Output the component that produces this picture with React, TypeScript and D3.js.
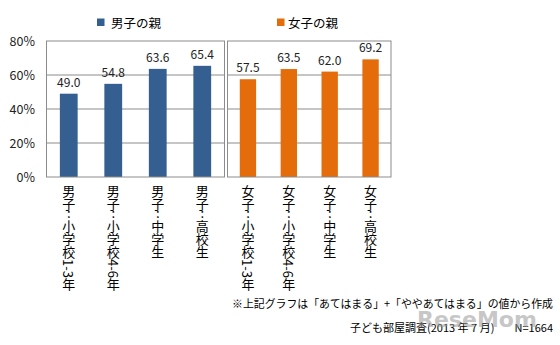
import React from "react";
import * as d3 from "d3";

const boysCats = ["男子:小学校1-3年", "男子:小学校4-6年", "男子:中学生", "男子:高校生"];
const girlsCats = ["女子:小学校1-3年", "女子:小学校4-6年", "女子:中学生", "女子:高校生"];
const boysValues = [49.0, 54.8, 63.6, 65.4];
const girlsValues = [57.5, 63.5, 62.0, 69.2];
const yTicks = [0, 20, 40, 60, 80];
const legendLabels = ["男子の親", "女子の親"];
const note1 = "※上記グラフは「あてはまる」+「ややあてはまる」の値から作成";
const note2Parts = ["子ども部屋調査", "(2013 年 7 月)", "N=1664"];

const BLUE = "#365F91";
const ORANGE = "#E46C0A";
const FONT = "'Noto Sans CJK JP', 'Noto Sans', sans-serif";

const top = 41, bottom = 177;
const y = d3.scaleLinear().domain([0, 80]).range([bottom, top]);

const vStyle = { writingMode: "vertical-rl", textOrientation: "mixed" } as React.CSSProperties;

function VLabel({ text, x }: { text: string; x: number }) {
  const [head, tail] = text.split(":");
  const y0 = 185;
  const fs = 13;
  const colonY = y0 + head.length * fs;
  return (
    <g>
      <text x={x} y={y0} fontSize={fs} fontFamily={FONT} fill="#000" style={vStyle}>{head}</text>
      <text x={x} y={colonY + 7} textAnchor="middle" fontSize={fs} fontFamily={FONT} fill="#000">:</text>
      <text x={x} y={colonY + 9} fontSize={fs} fontFamily={FONT} fill="#000" style={vStyle}>{tail}</text>
    </g>
  );
}

function Panel({ cats, values, x0, x1, color }: { cats: string[]; values: number[]; x0: number; x1: number; color: string }) {
  const x = d3.scaleBand<string>().domain(cats).range([x0, x1]).paddingInner(0.6).paddingOuter(0.3);
  return (
    <g>
      {yTicks.slice(1, -1).map((t) => (
        <line key={t} x1={x0} x2={x1} y1={y(t)} y2={y(t)} stroke="#8c8c8c" strokeWidth={1} />
      ))}
      {cats.map((c, i) => (
        <rect key={c} x={x(c)!} y={y(values[i])} width={x.bandwidth()} height={y(0) - y(values[i])} fill={color} />
      ))}
      {cats.map((c, i) => (
        <text key={"v" + c} x={x(c)! + x.bandwidth() / 2} y={y(values[i]) - 7} textAnchor="middle" fontSize={12} fontFamily={FONT} fill="#222">
          {values[i].toFixed(1)}
        </text>
      ))}
      <rect x={x0} y={top} width={x1 - x0} height={bottom - top} fill="none" stroke="#8c8c8c" strokeWidth={1} />
      {cats.map((c) => (
        <VLabel key={"l" + c} text={c} x={x(c)! + x.bandwidth() / 2} />
      ))}
    </g>
  );
}

export default function App() {
  return (
    <svg width={560} height={345} style={{ position: "absolute", left: 0, top: 0, background: "#fff" }}>
      <rect width={560} height={345} fill="#fff" />
      {yTicks.map((t) => (
        <text key={t} x={35} y={y(t) + 4.5} textAnchor="end" fontSize={12.5} fontFamily={FONT} fill="#222">{t}%</text>
      ))}
      <Panel cats={boysCats} values={boysValues} x0={46.5} x1={224.5} color={BLUE} />
      <Panel cats={girlsCats} values={girlsValues} x0={227.5} x1={391} color={ORANGE} />
      <rect x={97} y={18.5} width={7.5} height={7.5} fill={BLUE} />
      <text x={111} y={27.5} fontSize={12.5} fontFamily={FONT} fill="#000">{legendLabels[0]}</text>
      <rect x={277} y={18.5} width={7.5} height={7.5} fill={ORANGE} />
      <text x={288} y={27.5} fontSize={12.5} fontFamily={FONT} fill="#000">{legendLabels[1]}</text>
      <text x={553} y={308} textAnchor="end" fontSize={10.9} fontFamily={FONT} fill="#000">{note1}</text>
      <text x={350} y={332} fontSize={11} fontFamily={FONT} fill="#000">{note2Parts[0]}</text>
      <text x={427} y={332} fontSize={11} fontFamily={FONT} fill="#000">{note2Parts[1]}</text>
      <text x={553} y={332} textAnchor="end" fontSize={11} fontFamily={FONT} fill="#000">{note2Parts[2]}</text>
      <text x={417} y={327} fontSize={22} fontWeight="bold" fontFamily="'DejaVu Sans', sans-serif" fill="#9a9a9a" opacity={0.55}>ReseMom</text>
    </svg>
  );
}
